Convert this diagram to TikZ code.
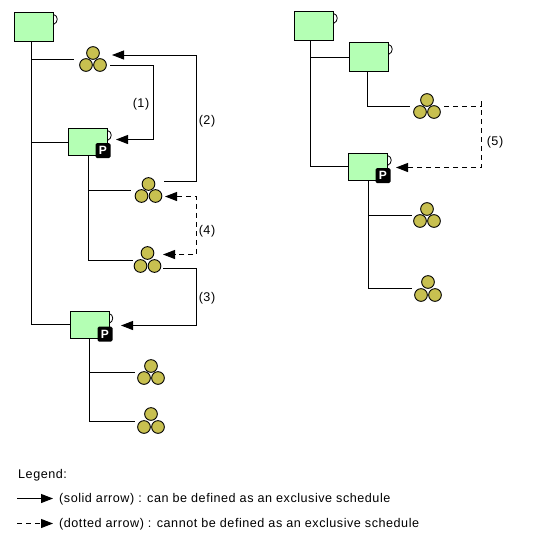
\documentclass[tikz,border=0pt]{standalone}
\usepackage{fontspec}
\setmainfont{Liberation Sans}
\newfontfamily\legfont[LetterSpace=4.2]{Liberation Sans}
\usetikzlibrary{arrows.meta,positioning}
\definecolor{boxgreen}{HTML}{B4FFB4}
\definecolor{olive}{HTML}{C8C050}
\tikzset{
  link/.style={line width=1pt,line cap=butt},
  dashlink/.style={line width=1pt,dash pattern=on 5pt off 4pt},
  head/.style={-{Triangle[length=12pt,width=9pt]}},
  twohead/.style={{Triangle[length=12pt,width=9pt]}-{Triangle[length=12pt,width=9pt]}},
  sched/.style={draw=black,fill=boxgreen,line width=1pt,inner sep=0pt,outer sep=0pt},
  trio/.style={inner sep=0pt,outer sep=0pt,minimum height=24pt},
  ball/.style={circle,draw=black,fill=olive,line width=.9pt,minimum size=12.7pt,inner sep=0pt},
  badge/.style={fill=black,text=white,rounded corners=1.5pt,inner sep=0pt,minimum width=15pt,minimum height=15pt,font=\fontsize{12}{12}\selectfont\bfseries},
  lab/.style={inner sep=0pt,font=\legfont\fontsize{12.6}{14}\selectfont},
  legend/.style={inner sep=0pt,anchor=west,font=\legfont\fontsize{12.6}{14}\selectfont}
}
% name, x1, y1, x2, y2
\newcommand{\schedbox}[5]{%
  \path[draw=black,line width=.8pt,fill=white] (#4,#3+2) .. controls (#4+5,#3+3) and (#4+5,#3+10) .. (#4,#3+12);
  \pgfmathsetmacro{\wid}{#4-#2}\pgfmathsetmacro{\hei}{#5-#3}
  \node[sched,minimum width=\wid pt,minimum height=\hei pt] (#1) at ({(#2+#4)/2},{(#3+#5)/2}) {};
}
% name, cx, cy, width; balls around bx, by(top), lower y
\newcommand{\triogroup}[7]{%
  \node[trio,minimum width=#4pt] (#1) at (#2,#3) {};
  \node[ball] (#1t) at (#5,#6) {};
  \node[ball] (#1l) at (#5-7,#7) {};
  \node[ball] (#1r) at (#5+7,#7) {};
}
\begin{document}
\begin{tikzpicture}[x=1pt,y=-1pt]
\useasboundingbox (0,0) rectangle (542,542);
\fill[white] (0,0) rectangle (542,542);
% left tree
\schedbox{A}{14.5}{12.5}{53.5}{41.5}
\schedbox{B}{68.5}{128.5}{107.5}{155.5}
\schedbox{C}{70}{311.5}{109}{338.5}
\node[badge] (pb) at (103,150.5) {P};
\node[badge] (pc) at (105,334) {P};
\triogroup{ga}{93}{59}{38}{93}{53}{65}
\triogroup{gb}{148}{190}{34}{148.5}{184}{196}
\triogroup{gc}{148}{260.5}{30}{147.5}{253}{266}
\triogroup{gd}{151}{372}{32}{151}{366}{378}
\triogroup{ge}{151}{421.5}{32}{151}{414}{427}
% right tree
\schedbox{D}{294.5}{11.5}{333.5}{40.5}
\schedbox{E}{349}{42.5}{388.5}{71.5}
\schedbox{F}{348.5}{153.5}{387.5}{180.5}
\node[badge] (pf) at (383,175.5) {P};
\triogroup{gf}{427}{106.5}{34}{427}{100}{112}
\triogroup{gg}{427}{215}{30}{427}{209}{221}
\triogroup{gh}{428}{288.5}{32}{428}{282}{295}
% junctions
\coordinate (ja) at (31.5,324.5);
\coordinate (jb) at (88.5,260.5);
\coordinate (jc) at (89.5,421.5);
\coordinate (jd) at (310.5,166.5);
\coordinate (je) at (367.5,106.5);
\coordinate (jf) at (368.5,288.5);
% tree lines
\draw[link] (A.south -| ja) -- (ja) -- (ja -| C.west);
\draw[link] (ja |- ga.west) -- (ga.west);
\draw[link] (ja |- B.west) -- (B.west);
\draw[link] (B.south -| jb) -- (jb) -- (gc.west);
\draw[link] (jb |- gb.west) -- (gb.west);
\draw[link] (C.south -| jc) -- (jc) -- (ge.west);
\draw[link] (jc |- gd.west) -- (gd.west);
\draw[link] (D.south -| jd) -- (jd) -- (jd -| F.west);
\draw[link] (jd |- E.west) -- (E.west);
\draw[link] (E.south -| je) -- (je) -- (gf.west);
\draw[link] (F.south -| jf) -- (jf) -- (gh.west);
\draw[link] (jf |- gg.west) -- (gg.west);
% bend columns
\coordinate (c1) at (153.5,100);
\coordinate (c2) at (196.5,100);
\coordinate (c5) at (481.5,100);
\coordinate (c3) at (196.5,325.5);
\coordinate (d1) at (196.5,196.5);
\coordinate (d2) at (196.5,254.5);
% arrows
\draw[link,head] ([shift={(-2,6)}]ga.east) -| (c1) |- ([shift={(8.5,-2.5)}]B.east);
\draw[link,head] ([shift={(-1,-8.5)}]gb.east) -| (c2) |- ([shift={(0,-4)}]ga.east);
\draw[link,head] ([shift={(0,7.5)}]gc.east) -| (c3) -- ([shift={(12,0.5)}]C.east);
\draw[dashlink,twohead] (d1 -| gb.east) -- (d1) -- (d2) -- (d2 -| gc.east);
\draw[dashlink,head] (gf.east) -| (c5) |- ([shift={(8.5,0.5)}]F.east);
% labels
\node[lab] (l1) at (141,104) {(1)};
\node[lab] (l2) at (207,121) {(2)};
\node[lab] (l3) at (207,298) {(3)};
\node[lab] (l4) at (207,231) {(4)};
\node[lab] (l5) at (495,142) {(5)};
% legend
\node[legend] (lt) at (18,475) {Legend:};
\node[legend] (ls) at (59,499) {(solid arrow) : can be defined as an exclusive schedule};
\node[legend] (ld) at (59,524) {(dotted arrow) : cannot be defined as an exclusive schedule};
\coordinate (sa) at (17,498.5);
\coordinate (sb) at (17,523.5);
\draw[link,head] (sa) -- ([xshift=-6pt]sa -| ls.west);
\draw[dashlink,head] (sb) -- ([xshift=-6pt]sb -| ld.west);
\end{tikzpicture}
\end{document}
